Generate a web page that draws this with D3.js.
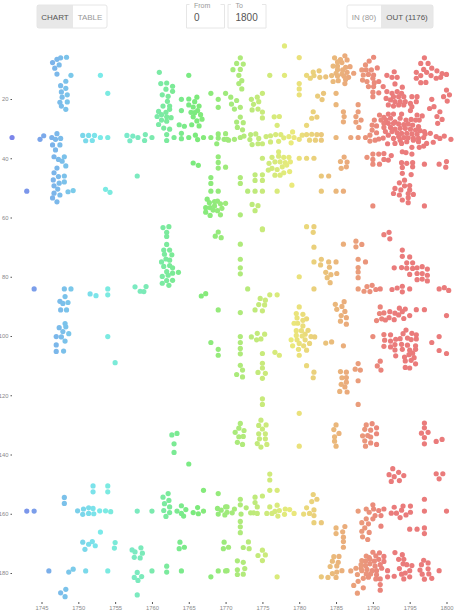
<!DOCTYPE html>
<html>
<head>
<meta charset="utf-8">
<script src="https://cdn.jsdelivr.net/npm/d3@7"></script>
<style>
  html, body { margin: 0; padding: 0; background: #fff; overflow: hidden; }
  text { font-family: "Liberation Sans", sans-serif; }
</style>
</head>
<body>
<svg id="canvas" width="454" height="610"></svg>
<script>
// [year, value], one list per horizontal band
const bandTopLeft = [[1748.4,5.9],[1747.6,6.1],[1747.1,6.6],[1746.5,7.7],[1747.4,8.5],[1746.8,9.6],[1747.1,11.6],[1749,12],[1748.3,14],[1747.6,15.5],[1748.3,16.4],[1747.7,17.6],[1748.5,18.6],[1747.8,19.4],[1747.5,21.1],[1748.5,21],[1747.7,22.4],[1748.3,23.5],
[1753,12],[1754,18.1],[1761,11],[1765,12],[1761.2,14.8],[1762,14.6],[1762.8,15.7],[1761.9,16.7],[1762.8,17.4],[1761.4,18.6],[1762.2,19.1],[1762.1,20.8],[1761.5,22.4],[1762.4,22.4],[1762.4,23.5],[1760.9,24.2],[1761.9,24.5],[1761.3,25.3],[1760.7,25.9],[1762,26],[1762.6,26.3],[1761.3,27.1],[1762,27.5],[1760.9,28.6],[1761.6,29.8],[1762.4,30.2],
[1764,20.1],[1765,20],[1766.1,19.4],[1765.8,20.9],[1765,22],[1765.6,22.7],[1766.4,22.4],[1764,23.9],[1765.3,24.5],[1766.2,23.9],[1765.8,24.6],[1766.6,25.3],[1765.6,26],[1766.8,26.8],[1766.1,27.4],[1763.7,28.7],[1764.4,29.2],[1765.4,28.7],[1766.4,29.1],[1764,31.6],[1768,18.1],[1770,18.1],[1769,20.1],[1769,22.8]];

const bandRow33Left = [[1741,33],[1744.8,33.6],[1745.3,32.4],[1747.1,31.7],[1746.4,33],[1746.9,33.6],[1747.6,33.3],[1746.5,35.5],[1747.5,35.5],[1746.9,37.2],[1750.6,32.3],[1751.4,32.3],[1752.2,32.3],[1751,34.1],[1751.9,34],[1753,33],[1754,33],[1756.6,32.3],[1757.4,32.5],[1758.1,33],[1757,34.1],[1759.1,32],[1759,34],[1760,33],[1762,32],[1762,34],[1763,33],[1764,33.4],[1765,33],[1765.9,32.2],[1766.2,33.7],[1767,33],[1768,33],[1769,31.8],[1769,33.2],[1770,31.7],[1769.8,33.6],[1768.8,35.1]];

const bandMidLeft = [[1746.7,39.5],[1748.1,39.5],[1747.3,40.4],[1747.8,41],[1748.3,42.6],[1747.1,43.3],[1746.7,44.9],[1748.1,46],[1747.3,46.2],[1746.6,47.3],[1748.1,48],[1747.4,48.4],[1746.7,49.3],[1747.2,50.4],[1749.3,50.9],[1748.6,51.3],[1746.7,51.8],[1747.5,52.4],[1746.5,53.4],[1747.1,54.7],[1743,51.1],[1753.7,50.5],[1754.3,51.5],[1758,46],[1769,39.5],[1765.6,41.6],[1766.3,42.4],[1769,41.4],[1769,43.3],[1770,43],[1768,46.5],[1768,48.5],[1768,51.1],[1769,51.1],[1767.5,53.8],[1767.8,55],[1768.5,54.6],[1768.9,54.5],[1769.3,55.4],[1770,55.2],[1767.3,56.7],[1767.9,56.7],[1768.5,56.1],[1769.5,56.9],[1767.3,58.2],[1768.3,57.5],[1768.9,57.7],[1767.9,59.3],[1769.3,59.1],[1761.5,63.4],[1762.3,63.1]];

const bandTopRight = [[1772,6.1],[1771.5,8],[1772.4,8.2],[1771,10.1],[1772,10],[1771.8,12],[1772.2,13.8],[1771.8,14.8],[1772.2,16.6],[1775,18.1],[1770.7,19.4],[1774.3,19.4],[1773.5,20.1],[1771.5,20.5],[1774.5,20.9],[1770.8,21.7],[1773.8,21.8],[1772,22.8],[1771.2,23.4],[1773.6,23.7],[1774.4,23.4],[1775,24.4],[1775,26.4],[1772,26.1],[1771.5,27.8],[1772.4,28],[1771.6,29.6],[1772.3,30.4],
[1776,12],[1778,12],[1778,2.1],[1780,6],[1776.6,26],[1777.3,25.9],[1777,28.9],[1780,14.8],[1780,16.6],[1780,18.6],[1781,12],[1781.9,10.9],[1781.5,13],[1782,12.1],[1782.7,10.5],[1782.8,12.7],[1783.6,12.5],[1782.5,19],[1783.3,18.1],[1783.1,20.2],[1785,18.1],[1785,21.9],[1781.9,24.3],[1781.7,26.5],[1782.4,26.1],[1781,28.9],
[1784.8,6.1],[1786.2,5.4],[1786.5,6.8],[1785.6,6.7],[1785.2,7.5],[1785.8,7.7],[1784.6,8.9],[1785.2,8.9],[1786.3,9.3],[1786.9,9.1],[1785.2,10.1],[1785.9,10.2],[1786.5,11],[1787.4,11.3],[1785,11.3],[1785.8,11.6],[1784.4,12.1],[1785.2,12.2],[1786.1,12.3],[1786.7,12.7],[1786.3,13.4],[1784.6,14.1],[1785.3,13.8],[1786.2,14.8],
[1788,21.9],[1786,24.3],[1786.1,25.9],[1788,24.3],[1787.7,25.9],[1786,27.7],[1787.7,27.8],[1788.4,27.1],[1788.1,29.6]];

const bandRow33Right = [[1770.2,33.6],[1770.4,33.9],[1771.2,33.6],[1772,33],[1772.5,32.5],[1773.4,32],[1773.3,33.7],[1774.1,31.8],[1774.5,33.3],[1773.6,35.4],[1774.4,35.1],[1775,35.1],[1775.5,32.7],[1776.1,32.4],[1776.8,32],[1777.5,32],[1776.1,34.5],[1777.2,34.3],[1777.9,33.1],[1778.6,32.7],[1779.1,31.1],[1779.3,33],[1780,33.6],[1778.9,34.8],[1780.4,32.2],[1781,32],[1781.7,31.9],[1782.4,32],[1783,32],[1781.4,33.9],[1782.2,33.9],[1783,33.9],[1785,33],[1787,33],[1788,33],[1789,33]];

const bandRedUpper = [[1797,6.1],[1796.5,8],[1797.5,8],[1795.9,11],[1796.9,10],[1797.3,11],[1798,9.6],[1798.7,10.5],[1799.4,11.4],[1800,11.7],[1795.9,13],[1796.5,12.1],[1797.9,12.1],[1798.6,13],[1799.2,12.7],[1796.5,14.5],[1797.2,14.4],[1800,17],[1800.4,18.6],[1799.6,19.2],[1800.1,20.7],
[1790.1,5.9],[1789.5,7.2],[1789,8.5],[1790.6,9.5],[1788.5,10.2],[1789.1,10.2],[1789.8,10.2],[1788.7,11.9],[1789.4,11.7],[1790.1,11.9],[1788.6,13.6],[1789.2,14.1],[1790,13],[1790.2,14.5],[1789.4,15.8],[1790.1,15.8],[1790.8,14.1],[1791.4,15.8],[1790,17.7],[1790,19.2],[1790.8,17.9],[1791.9,12],[1792.9,10.8],[1793.3,12.7],[1792.6,12.7],[1793,14.9],[1794,16],[1791.9,17.5],[1792.6,18.1],[1793.3,17.5],[1793.9,18.1],[1792.8,19.2],[1793.5,19.2],[1794.2,19.2],[1791.8,19.8],[1792.4,20.3],[1793,20.9],[1793.7,20.9],[1795.3,19.2],[1796,19.2],[1794.4,20.9],[1795.1,21.5],[1795.9,20.9],[1792.1,22],[1792.8,22.4],[1793.5,22],[1794.2,22],[1795.3,22.6],[1798,20.1],[1797.7,23.2],[1798.3,22.6],[1799.1,24.3],[1798.7,25.9],[1799.4,26.9],[1798.8,28.2]];

const bandRedStar = [[1790.9,25.4],[1791.5,26.2],[1792.1,25.1],[1792.8,25.1],[1793.9,25.1],[1795.1,23.9],[1796,25.4],[1796.7,25.7],[1790.2,27.1],[1791.1,27.1],[1791.8,27.1],[1792.4,26.5],[1793,27.7],[1793.7,26.5],[1794.5,27.1],[1795.2,26.9],[1795.8,27.1],[1796.3,27.1],[1789.9,28.8],[1790.5,29.1],[1791.5,28.2],[1792.1,28.2],[1792.8,28.2],[1793.5,28.4],[1794.2,28.6],[1794.8,28.4],[1795.4,28.8],[1796.2,29.3],[1789.9,30.5],[1791.5,29.6],[1792.4,29.6],[1793,30.2],[1793.7,29.9],[1794.4,29.9],[1795.1,30.2],[1795.8,30.5],[1796.4,30.7],[1797,31],[1790.5,31.4],[1791.7,31],[1792.6,31],[1793.3,31.4],[1793.9,31.6],[1794.6,31.6],[1795.3,31.8],[1796,31.9],[1797.1,31.8],[1797.8,31.6],[1792.1,32.2],[1793.5,32.7],[1794.2,33],[1794.8,33.1],[1795.5,33.3],[1796.2,33.3],[1796.9,33],[1798.6,32.7],[1799.7,32.5],[1799.1,33.3],[1800.6,33.6],[1794.6,34.4],[1795.5,33.9],[1796.2,34.4],[1797.3,35],[1798.2,34.6],[1793.9,35],[1793,35],[1796.9,35.9],[1795.3,36.3],[1796.3,36.3],[1794,37.8],[1794.5,38.1],[1795.3,38.6],[1789.6,32.2],[1789.6,34.2],[1790.3,33.9],[1790.8,33.5],[1791.4,33.2],[1792,35.1],[1792.8,33.3],[1793.7,33.9]];

const bandRedLower = [[1789.2,39.7],[1790,38.6],[1790,40.4],[1790.8,38.6],[1791.5,38.4],[1792.5,39.1],[1791.5,40.4],[1792.1,40.6],[1790,42],[1790.9,42],[1793.9,41.5],[1794.6,41.7],[1795.4,41.5],[1794,43.1],[1795.4,42.9],[1797,42],[1799,42],[1800,41.1],[1799.9,43],[1794,45.1],[1795.2,45.5],[1794.3,47.4],[1793.6,48.3],[1795,49.2],[1794.3,49.3],[1793,50.2],[1793.8,50.7],[1795,50.7],[1792.8,51.9],[1793.6,52.4],[1794.8,51.9],[1795.5,52.2],[1794,54.1],[1794.8,53.3],[1794.8,55],[1790,56.1],[1797,56.1]];

const bandMidRight = [[1786.1,39.6],[1785.6,41.1],[1786.5,41.3],[1785.7,43.4],[1786.4,42.9],[1783,46],[1784,46],[1783,51.1],[1785,51.1],[1786,51.1],[1779,49.1],[1777,51.1],[1775,51.1],[1774,51.1],[1773,51.1],[1772,46.5],[1772,48.5],[1774,45.6],[1775,45.6],[1774,47.5],[1775,47.5],[1773.6,55.6],[1774.4,56],[1774,57.7],[1772,59.1],[1775,63.8],[1781,63.1],[1782,63.1],
[1775,40],[1777.2,37.8],[1776.3,39.7],[1777.2,39.3],[1777.9,39.7],[1778.6,39.7],[1780,40],[1781,40],[1782,40],[1775.9,41.7],[1776.7,41.2],[1777.4,41.2],[1778.1,41.5],[1778.8,41.2],[1776.3,43.4],[1777,43.8],[1777.7,42.9],[1778.3,42.3],[1775.8,44],[1776.7,45.7],[1777.4,45.7],[1777.9,44.9],[1778.7,44.5]];

const band80Left = [[1762,65],[1762,66.4],[1769,64.9],[1768.6,66.3],[1769.4,66.8],[1762,69.1],[1761.6,71],[1762.4,71],[1761.7,72.4],[1762.7,72.6],[1761.9,74],[1762.4,74.4],[1761.3,75],[1761.6,76.5],[1762.4,76.2],[1762.8,77],[1762,78.3],[1763.6,78.5],[1762.8,78.8],[1762.2,79.5],[1761.4,79.9],[1762,81.3],[1762.8,81.2],[1761.4,82.2],[1762.3,82.9],[1744,84.1],[1748.1,84.1],[1749,84.1],[1748.2,86.7],[1747.5,88.3],[1747.9,89],[1748.6,88.7],[1747.6,91.2],[1748.4,91.2],[1751.6,85.8],[1752.4,86.4],[1754,84.1],[1754,86.1],[1757.7,83.4],[1758.4,84.9],[1758.9,85],[1759.2,83.3],[1766.7,86.5],[1767.3,85.7],[1769,91.2],[1748.2,95.8],[1747.4,97.2],[1748.3,96.9],[1747.9,98.5],[1747,100.2],[1747.7,100.3],[1748.7,99.2],[1748.2,101.7],[1747,103],[1747,105.2],[1748,105.1],[1754,100.2],[1755,109],[1768,102.2],[1769,104.5],[1769,106.5]];

const band80Right = [[1775,64.1],[1781.9,65],[1782,70],[1772,69],[1772,74.1],[1772,77],[1772,79],[1773,84.1],[1782,75],[1783,74.1],[1782.9,76],[1784,75],[1784.1,76.8],[1785,75],[1783.6,78.5],[1784.3,79.3],[1785.1,78.9],[1783.8,80.3],[1784.2,82],[1780,80],[1782,84.1],[1786,69],[1787.7,68],[1787.7,69.9],[1788.5,69.1],[1788,74.1],[1789,75],[1788,76.9],[1788,78.4],[1788,80.3],[1788,84.1],[1789.2,83.3],[1788.8,84.9],[1789.9,82.9],[1789.6,85],[1790.4,84.3],[1791,84.1],[1791.5,65.8],[1792.2,65],[1792.3,67.2],[1794,71],[1794,73.1],[1795,73.3],[1794.6,75.3],[1795.4,75.3],[1792.9,77],[1793.9,76.9],[1794.6,77.1],[1795.4,77.2],[1796,77],[1796.7,76.6],[1797.4,77.4],[1795,79.2],[1796,78.9],[1796.7,78.9],[1797.4,79.5],[1796,81],[1796.7,80.8],[1797.4,81.4],[1792.6,84.3],[1793.3,83.8],[1794,83.2],[1794,85.1],[1795,84.1],[1799,84.1],[1799.7,83.7],[1800.3,84.6],
[1774.7,87.3],[1776,86.1],[1777,86.1],[1775.4,87.9],[1774.5,89.4],[1775.3,89.5],[1774,91.2],[1775,91.5],[1772,92.1]];

const band100Right = [[1780,90.2],[1779.6,92.4],[1780.5,92.7],[1779.7,93.9],[1781,94.2],[1780.5,94.7],[1779.3,95.7],[1779.8,95.7],[1780.5,96.6],[1779.6,98.2],[1780.3,98.2],[1781.2,98.1],[1779.6,99.8],[1780.8,99.4],[1780.4,100],[1781.6,100.2],[1782.1,100.3],[1778.9,101.3],[1779.7,101.3],[1780.8,101.3],[1780,102.5],[1780.6,103.3],[1781.4,102.5],[1779.1,103.3],[1779.9,104.5],[1781,104.8],[1780,106.5],[1783.6,102.4],[1784.4,102],[1786,103.3],[1784.9,89.3],[1786.1,88.4],[1785.8,90],[1785.1,91],[1786.2,91.7],[1785.7,93.1],[1786.4,93.8],[1785.6,95],[1786.4,96],
[1791,90.2],[1790.9,92.4],[1791.5,92.2],[1792.3,91.8],[1793,92.3],[1793.6,90.6],[1794.4,90.9],[1794,91.8],[1793.5,92.9],[1795,93.1],[1795.9,91.1],[1797,91.1],[1800,93.1],[1790.5,94.8],[1791.2,94.2],[1791.7,94.6],[1792.2,93.8],[1792.9,94.5],[1794.2,94.1],
[1794.5,98],[1791.5,99.5],[1792.4,99.6],[1790,100.2],[1794.1,99.2],[1795.3,99.1],[1795.9,99.6],[1799,100.2],[1791.6,101.4],[1792.4,101.7],[1793.1,101.1],[1793.7,100.9],[1794.7,100.7],[1795.2,101.2],[1795.9,101],[1798,102.2],[1791.5,103.5],[1792.4,103.7],[1793,102.9],[1793.9,102.8],[1794.7,103.1],[1795.8,103.3],[1793,104.7],[1794,104.5],[1795,104.8],[1795.8,104.5],[1793.1,106.7],[1794.9,106.3],[1795.4,105.8],[1794.3,107.1],[1795.6,107.3],[1799,104.9],[1800,105.9],[1794.4,108.4],[1795.2,108.2],[1795.8,109.4],[1794.4,110.6],[1795,110.8],
[1788,109.3],[1787.6,111.2],[1788.3,111.5],[1788,115.1],[1788,123.1],[1791,108.5],[1790.6,110.1],[1791.1,111.5],[1785.6,112],[1786.4,112.2],[1785.8,114.1],[1786.4,114],[1786.4,115.6],[1785.7,116.3],[1786.2,117.2],[1785.5,118.7],[1786.5,118.9],
[1772,100.2],[1774.3,99.1],[1775.3,99.4],[1773.5,100.3],[1774.2,101.3],[1774.8,101],[1772,102.2],[1772,104.2],[1772,106],[1775,105.9],[1776.7,105.5],[1777.3,106.5],[1772,109.9],[1775,109.2],[1772.3,111.5],[1775,110.8],[1771.5,113],[1772.3,113.8],[1774.4,112.3],[1775.4,112.6],[1775,114.3],[1775,121.2],[1775,123.1],[1780,126.1],[1781,110],[1782,112.2],[1781.9,114.1]];

const band160Left = [[1762.7,133.4],[1763.4,132.9],[1763,136.4],[1763,139.3],[1765,143.2],[1752,150.6],[1754,150.6],[1752,152.6],[1754,152.6],[1748.1,154.5],[1748.1,156.5],[1743,159.1],[1744,159.1],[1749.9,159],[1750.7,158.4],[1751.4,158],[1752,158.2],[1750.6,160.2],[1751.4,159.9],[1752.1,160],[1752.9,159],[1753.7,159],[1754.4,159.3],[1758,159.1],[1760,159.1],[1762.2,153.2],[1761.5,154.4],[1762.3,155.5],[1761.7,156.6],[1762.4,157.7],[1761.6,158.9],[1762.4,159.6],[1761.9,160.9],[1763.4,159.1],[1764,157.3],[1764,159.9],[1764.3,160.8],[1764.6,158.6],[1765.6,159.6],[1766.2,157.9],[1766.3,160],[1767,159.1],[1767,152.1],[1769,153.2],[1768.9,158.2],[1769.4,158.8],[1769,160.1],[1770,157.7],[1769.9,160.4],
[1753,166.2],[1750.6,169.6],[1751.9,169.4],[1751.4,170.3],[1752.3,170.8],[1750.9,172],[1755,169.7],[1754.9,171.6],[1757.3,172.2],[1757.7,172.9],[1758.5,171.5],[1758.7,173.3],[1757.6,174.7],[1758.4,174.9],[1763.8,169.6],[1763.7,171.8],[1764.4,171.3],[1769.8,169.6],[1769.7,171.8],[1746,179.3],[1748.7,179.7],[1749.3,178.7],[1751,179.3],[1754,179.3],[1758,179.8],[1757.6,181.5],[1758.6,181.2],[1758.1,182.5],[1760,179.3],[1762,177.7],[1762,179.7],[1764,179.3],[1768,181.3],[1769,179.3],[1770,179.3],[1748.3,185.5],[1747.6,186.7],[1748.2,188],[1758,187.4]];

const band140Right = [[1772,129.5],[1771.8,131.1],[1771.3,132.5],[1772.5,131.9],[1771.8,134],[1772.4,133.9],[1771.6,135.9],[1772.3,136.6],[1774.8,128.4],[1774.5,130.2],[1775.5,130],[1775,131.4],[1774.5,133],[1775.4,133],[1774.6,134.7],[1775.4,134.7],[1774.3,136.3],[1775.6,136.6],[1774.8,137.5],[1780,137.2],[1785,130],[1784.7,131.6],[1785.4,132.9],[1784.8,134],[1784.8,135.5],[1785,137.2],[1789.9,129.6],[1789.1,130],[1788.9,131.5],[1789.7,131.8],[1790.5,131],[1790.5,133],[1788.6,133.7],[1789.3,133.6],[1789.7,134.1],[1788.9,135.4],[1789.7,136.1],[1790.5,136.6],[1789,137.2],[1797,129.4],[1797,131],[1797.5,132.5],[1796.6,132.8],[1797,134.3],[1797,136.4],[1798.6,135.6],[1799.4,134.9],[1792.7,144.8],[1793.5,146],[1794.2,147.1],[1792.2,146.8],[1792.9,147.5],[1793.6,148.8],[1792.5,149.1],[1798.6,146.5],[1799.5,146.5],[1799,148.2],[1776,146.6],[1776,148.6],[1776,152.1],[1777,152.1]];

const band160Right = [[1781.9,153.5],[1782.4,155.1],[1781.7,155.9],[1781,158],[1782,158.7],[1780.6,160.1],[1781.4,159.9],[1782,160.6],[1782,163],[1783,163],[1775,154],[1774,154.4],[1774,156.2],[1772,155.1],[1772,157],[1774.3,157.7],[1770.2,157.7],[1771.2,158.4],[1772.8,158],[1770.2,159.5],[1770.9,159.7],[1772.1,160.1],[1773.4,159.7],[1773.8,159.7],[1774.3,159.9],[1772,162.6],[1772,164.4],[1772,166.4],[1776,157.7],[1777,157.1],[1777.3,158.9],[1776.7,159.2],[1775.6,159.9],[1776.3,159.9],[1777.1,160.8],[1778,160.2],[1778.1,158.4],[1778.7,158.6],[1779.3,159.9],[1785,164.8],[1786.2,164.3],[1785,166.7],[1785.9,166.1],[1786,167.9],[1786,169.4],[1786,171.3],
[1788,159.1],[1789.1,158.4],[1790,157],[1790.1,158.4],[1789.5,159.5],[1790.8,158.9],[1791.5,158.4],[1790.3,160.6],[1791.1,160.6],[1789.1,161.7],[1790,161.7],[1788.5,163],[1789.4,163.4],[1791.1,164.2],[1788.9,164.8],[1788.5,165.9],[1789.5,166.3],[1788.6,167.8],[1789.3,168.7],[1792.9,157.8],[1794.1,157.4],[1795.1,157.4],[1792.5,159.8],[1793.2,159.8],[1793.9,158.8],[1795.1,159.5],[1794.5,160.4],[1793.7,161.3],[1797,155.1],[1797,159.1],[1800,159.1],[1795,165.2],[1796,165.2],[1797,164.8],[1797,166.7]];

const band180Right = [[1770.4,171.3],[1773.1,169.5],[1772.4,171.4],[1773.2,171.8],[1775,172.3],[1774.4,174.1],[1775.4,173.9],[1775,175.8],[1771.6,175.9],[1772.4,176.4],[1772.6,178.5],[1771.6,178.9],[1771.6,180.5],[1772.4,180.4],[1770.2,179.2],[1777,181.3],[1784.7,174.5],[1785.4,174.4],[1784.5,176],[1785.3,176.4],[1784.2,177.8],[1785.1,177.6],[1785.8,179.2],[1784.5,180.2],[1785.1,179.7],[1783,181.3],[1783.9,181.5],[1785,181.5],
[1787,179.3],[1787.7,178.4],[1788.4,178.4],[1787.9,180.5],[1788,182.8],[1788.7,181.8],[1787.4,184.2],[1788.7,185],[1787.9,186.8],[1790,173],[1789.1,174.3],[1789.5,174.8],[1790.4,174.2],[1790.9,173.2],[1788.5,175.8],[1789,176],[1789.6,175.4],[1790.2,176],[1790.8,175.4],[1791.5,174.4],[1791.5,176.1],[1788.4,177.2],[1789,177.5],[1789.6,176.9],[1790.3,177.7],[1791,177.2],[1788.5,179.2],[1789.2,178.8],[1789.9,179.2],[1790.5,179.2],[1791.2,178.4],[1792,179.2],[1789.1,180.3],[1789.7,180.3],[1790.5,180.6],[1789.4,181.4],[1790.4,182],[1791,182],[1792,181.3],[1791,183.9],[1791,185.8],
[1793,173.1],[1794,173.8],[1793.5,175.4],[1794.2,175.4],[1794.6,177.2],[1794.1,176.9],[1793.6,178.5],[1795,179.2],[1794.4,180],[1792.9,181.1],[1793.9,180.4],[1794.2,182],[1795,181.3],[1795.3,177.5],[1796.9,175.7],[1797.5,176.6],[1796.6,177.2],[1797.5,178.6],[1796.4,179],[1799,179.2],[1796.7,180.4],[1797.6,180.3],[1797,182.1],[1798,181.8]];

const xTicks = [1745, 1750, 1755, 1760, 1765, 1770, 1775, 1780, 1785, 1790, 1795, 1800];
const yTicks = [20, 40, 60, 80, 100, 120, 140, 160, 180];

const allPoints = [].concat(bandTopLeft, bandRow33Left, bandMidLeft, bandTopRight, bandRow33Right,
  bandRedUpper, bandRedStar, bandRedLower, bandMidRight, band80Left, band80Right, band100Right,
  band160Left, band140Right, band160Right, band180Right);

const svg = d3.select("#canvas");

const x = d3.scaleLinear().domain([1745, 1800]).range([41.5, 446.5]);
const y = d3.scaleLinear().domain([20, 180]).range([99, 573]);
const hue = d3.scaleLinear().domain([1741, 1792]).range([235, 0]).clamp(true);

// axes
const xAxis = d3.axisBottom(x).tickValues(xTicks).tickFormat(d3.format("d")).tickSize(2).tickPadding(1.5);
const yAxis = d3.axisLeft(y).tickValues(yTicks).tickSize(1.5).tickPadding(2);

svg.append("g").attr("transform", "translate(0,602)").call(xAxis)
  .call(g => g.select(".domain").remove());
svg.append("g").attr("transform", "translate(12,0)").call(yAxis)
  .call(g => g.select(".domain").remove());
svg.selectAll(".tick text").attr("fill", "#888").style("font-size", "5.8px");
svg.selectAll(".tick line").attr("stroke", "#555");

// dots
svg.append("g").selectAll("circle")
  .data(allPoints)
  .enter()
  .append("circle")
  .attr("cx", d => x(d[0]))
  .attr("cy", d => y(d[1]))
  .attr("r", 2.6)
  .attr("fill", d => d3.hsl(hue(d[0]), 0.72, 0.7));

// top controls
const ui = svg.append("g");
const button = (bx, bw, label, on) => {
  ui.append("rect").attr("x", bx).attr("y", 5).attr("width", bw).attr("height", 23)
    .attr("fill", on ? "#e8e8e8" : "#fff");
  ui.append("text").attr("x", bx + bw / 2).attr("y", 19.5).attr("text-anchor", "middle")
    .attr("font-size", 8).attr("fill", on ? "#555" : "#999").text(label);
};
const frame = (bx, bw) => ui.append("rect").attr("x", bx).attr("y", 5).attr("width", bw).attr("height", 23)
  .attr("rx", 2).attr("fill", "none").attr("stroke", "#e6e6e6");

button(37, 36, "CHART", true);
button(73, 34, "TABLE", false);
frame(37, 70);
button(347, 34, "IN (80)", false);
button(381, 52, "OUT (1176)", true);
frame(347, 86);

const field = (bx, bw, label, value) => {
  ui.append("path").attr("fill", "none").attr("stroke", "#e6e6e6")
    .attr("d", `M${bx + 4},4.5 H${bx + 1} V28 H${bx + bw} V4.5 H${bx + bw - 4}`);
  ui.append("text").attr("x", bx + 8.5).attr("y", 7.5).attr("font-size", 7).attr("fill", "#999").text(label);
  ui.append("text").attr("x", bx + 8.5).attr("y", 20.5).attr("font-size", 10).attr("fill", "#555").text(value);
};
field(185.5, 39, "From", "0");
field(227, 39, "To", "1800");
</script>
</body>
</html>
